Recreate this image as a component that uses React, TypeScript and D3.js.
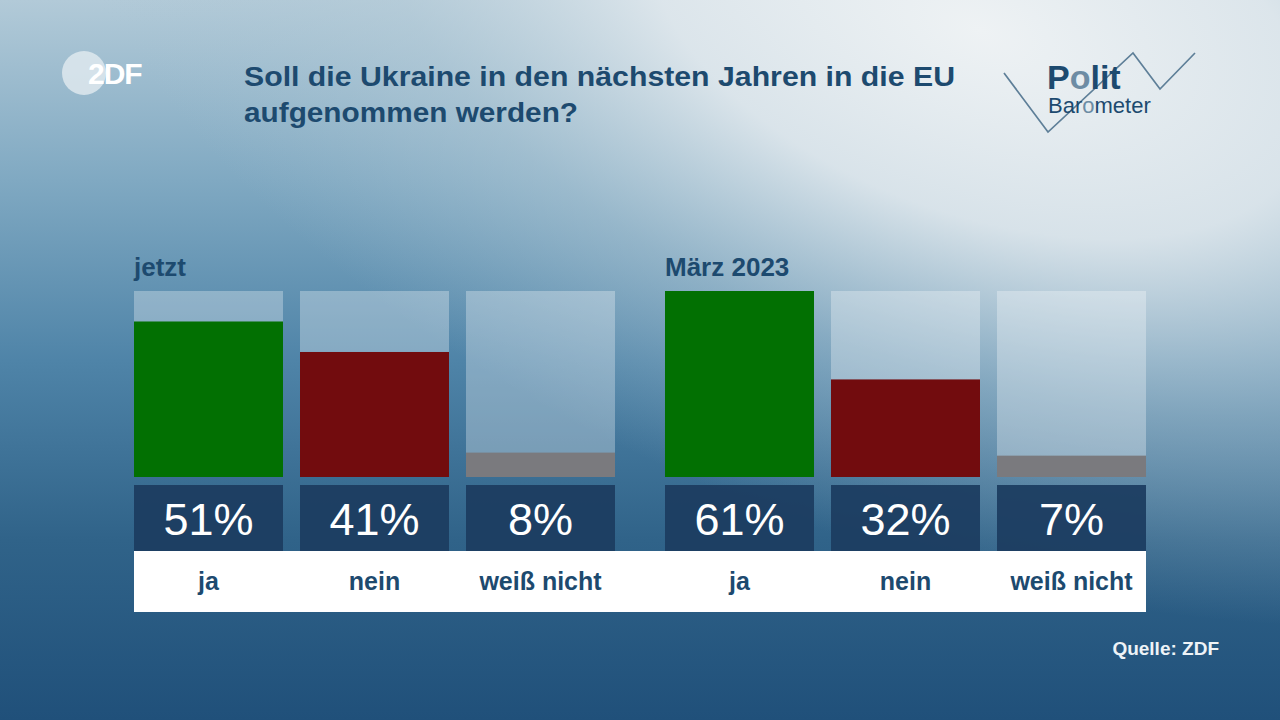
import React from "react";
import * as d3 from "d3";

const groups = ["jetzt", "März 2023"];
const categories = ["ja", "nein", "weiß nicht"];
const valuesNow = [51, 41, 8];
const valuesMarch = [61, 32, 7];
const barColors = ["#027002", "#720c0e", "#7a7a7e"];
const title = ["Soll die Ukraine in den nächsten Jahren in die EU", "aufgenommen werden?"];
const source = "Quelle: ZDF";

const W = 1280, H = 720;
const FONT = "'Liberation Sans', Arial, sans-serif";
const NAVY = "#1d4a6f";

export default function App() {
  const series = [valuesNow, valuesMarch];
  const maxV = d3.max(series.flat()) as number;
  const y = d3.scaleLinear().domain([0, maxV]).range([477, 291]);
  const groupX = d3.scaleBand<string>().domain(groups).range([134, 1146]).paddingInner(50 / 531);
  const gw = groupX.bandwidth();
  const barX = d3.scaleBand<string>().domain(categories).range([0, gw]).paddingInner(34 / 332);
  const zig = d3.line()([[1004, 73], [1048, 132], [1133, 53], [1160, 89], [1195, 53]]);
  return (
    <svg width={W} height={H} style={{ position: "absolute", left: 0, top: 0, display: "block" }}>
      <defs>
        <linearGradient id="bg" x1="0" y1="0" x2="0" y2="1">
          <stop offset="0" stopColor="#b2cad8" />
          <stop offset="0.25" stopColor="#80a9c2" />
          <stop offset="0.5" stopColor="#4f84a8" />
          <stop offset="0.75" stopColor="#306389" />
          <stop offset="1" stopColor="#20507a" />
        </linearGradient>
        <radialGradient id="glow" gradientUnits="userSpaceOnUse" cx={980} cy={30} r={820}
          gradientTransform="translate(980,30) rotate(20) scale(1.2,0.64) translate(-980,-30)">
          <stop offset="0" stopColor="#eef2f4" stopOpacity="1" />
          <stop offset="0.35" stopColor="#e0e8ed" stopOpacity="0.92" />
          <stop offset="0.65" stopColor="#b8cdd9" stopOpacity="0.5" />
          <stop offset="1" stopColor="#a9c3d2" stopOpacity="0" />
        </radialGradient>
      </defs>
      <rect width={W} height={H} fill="url(#bg)" />
      <rect width={W} height={H} fill="url(#glow)" />

      {/* ZDF logo */}
      <circle cx={84} cy={73} r={22} fill="#e2ebf0" opacity={0.8} />
      <text x={88} y={84} fontFamily={FONT} fontWeight="bold" fontSize={30} fill="#ffffff" letterSpacing={-1}>2DF</text>

      {/* Title */}
      {title.map((t, i) => (
        <text key={i} x={244} y={86 + i * 36} fontFamily={FONT} fontWeight="bold" fontSize={28}
          textLength={i === 0 ? 711 : 334} lengthAdjust="spacingAndGlyphs" fill={NAVY}>{t}</text>
      ))}

      {/* Polit Barometer */}
      <path d={zig ?? ""} fill="none" stroke="#5e7f98" strokeWidth={1.7} />
      <text x={1047} y={89} fontFamily={FONT} fontWeight="bold" fontSize={34} fill="#1d4a6f">P<tspan fill="#6d8ca4">o</tspan>lit</text>
      <text x={1048} y={113} fontFamily={FONT} fontSize={22} fill="#1d4a6f">Bar<tspan fill="#6d8ca4">o</tspan>meter</text>

      {/* white label strip */}
      <rect x={134} y={551} width={1012} height={61} fill="#ffffff" />

      {groups.map((g, gi) => {
        const gx = groupX(g) as number;
        return (
          <g key={g} transform={`translate(${gx},0)`}>
            <text x={0} y={276} fontFamily={FONT} fontWeight="bold" fontSize={26} fill={NAVY}>{g}</text>
            {categories.map((c, ci) => {
              const bx = barX(c) as number;
              const bw = barX.bandwidth();
              const v = series[gi][ci];
              return (
                <g key={c}>
                  <rect x={bx} y={y(maxV)} width={bw} height={y(0) - y(maxV)} fill="#ffffff" opacity={0.3} />
                  <rect x={bx} y={y(v)} width={bw} height={y(0) - y(v)} fill={barColors[ci]} />
                  <rect x={bx} y={485} width={bw} height={66} fill="#1c3d61" opacity={0.95} />
                  <text x={bx + bw / 2} y={535} textAnchor="middle" fontFamily={FONT} fontSize={45} fill="#ffffff">{v}%</text>
                  <text x={bx + bw / 2} y={590} textAnchor="middle" fontFamily={FONT} fontWeight="bold" fontSize={25} fill={NAVY}>{c}</text>
                </g>
              );
            })}
          </g>
        );
      })}

      <text x={1219} y={655} textAnchor="end" fontFamily={FONT} fontWeight="bold" fontSize={19} fill="#eef3f7">{source}</text>
    </svg>
  );
}
